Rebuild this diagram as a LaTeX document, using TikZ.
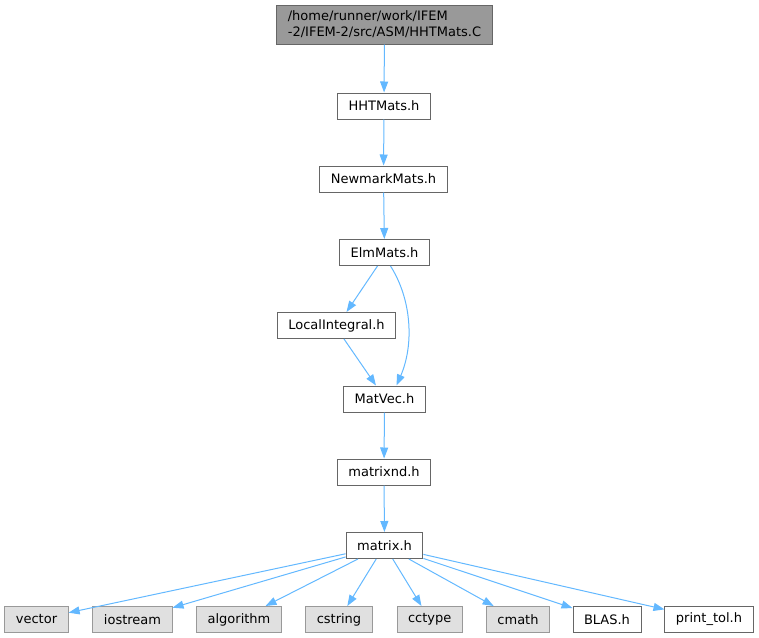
\documentclass[tikz,border=0pt]{standalone}
\usepackage{fontspec}
\setmainfont{DejaVu Sans}
\usetikzlibrary{arrows.meta}
\definecolor{ColEdge}{RGB}{99,184,255}
\definecolor{ColRoot}{RGB}{153,153,153}
\definecolor{ColRootLine}{RGB}{102,102,102}
\definecolor{ColSys}{RGB}{224,224,224}
\definecolor{ColSysLine}{RGB}{153,153,153}
\tikzstyle{FileNode}=[rectangle,draw=ColRootLine,fill=white,line width=1pt,minimum height=26pt,
inner xsep=11pt,inner ysep=0pt,font=\fontsize{13}{16}\selectfont]
\tikzstyle{RootNode}=[FileNode,fill=ColRoot,align=left,minimum height=39pt]
\tikzstyle{SysNode}=[FileNode,draw=ColSysLine,fill=ColSys]
\tikzstyle{Include}=[ColEdge,line width=1pt,-{Triangle[length=11pt,width=8pt]}]

\begin{document}
\begin{tikzpicture}[x=1pt,y=-1pt]
        \useasboundingbox(0,0)rectangle(759,637);
        \node[RootNode](root)at(384.5,24.5){/home/runner/work/IFEM\\-2/IFEM-2/src/ASM/HHTMats.C};
        \node[FileNode](hht)at(384,106){HHTMats.h};
        \node[FileNode](nm)at(383.5,179){NewmarkMats.h};
        \node[FileNode](elm)at(384.5,252.5){ElmMats.h};
        \node[FileNode](li)at(336.5,325.5){LocalIntegral.h};
        \node[FileNode](mv)at(384.5,399){MatVec.h};
        \node[FileNode](mnd)at(384,472){matrixnd.h};
        \node[FileNode](mx)at(384.5,545.5){matrix.h};
        \node[SysNode](vec)at(36.5,619.5){vector};
        \node[SysNode](ios)at(132.5,619.5){iostream};
        \node[SysNode](alg)at(239,619.5){algorithm};
        \node[SysNode](cstr)at(339,619.5){cstring};
        \node[SysNode](cct)at(429.7,619.5){cctype};
        \node[SysNode](cm)at(518,619.5){cmath};
        \node[FileNode](blas)at(607,619.5){BLAS.h};
        \node[FileNode](ptol)at(709,619.5){print\_tol.h};
        \draw[Include](root)--(hht);
        \draw[Include](hht)--(nm);
        \draw[Include](nm)--(elm);
        \draw[Include]([xshift=-7pt]elm.south)--([xshift=10pt]li.north);
        \draw[Include]([xshift=6pt]elm.south)..controls(412,300)and(414,345)..([xshift=12pt]mv.north);
        \draw[Include]([xshift=7.5pt]li.south)--([xshift=-8.5pt]mv.north);
        \draw[Include](mv)--(mnd);
        \draw[Include](mnd)--(mx);
        \draw[Include](mx)--(vec);
        \draw[Include](mx)--(ios);
        \draw[Include](mx)--(alg);
        \draw[Include](mx)--(cstr);
        \draw[Include](mx)--(cct);
        \draw[Include](mx)--(cm);
        \draw[Include](mx)--(blas);
        \draw[Include](mx)--(ptol);
    \end{tikzpicture}
\end{document}
